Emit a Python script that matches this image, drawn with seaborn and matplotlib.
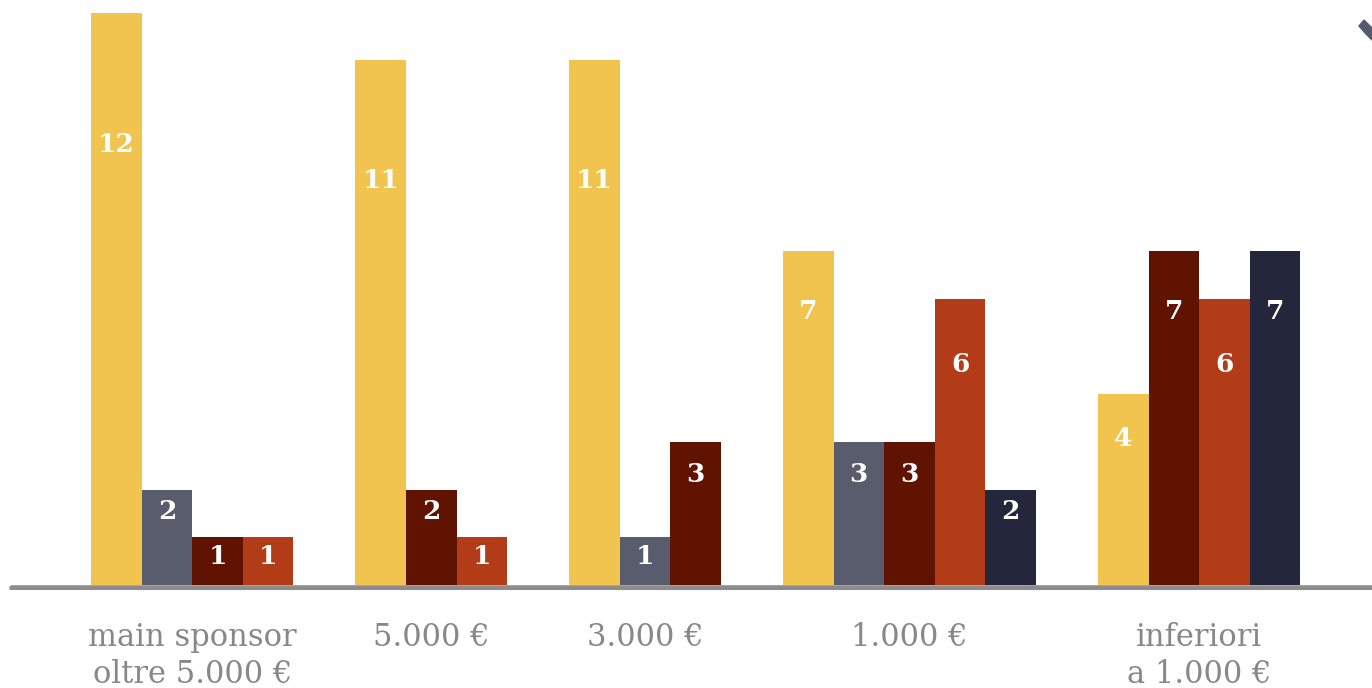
import matplotlib
matplotlib.use("Agg")
import matplotlib.pyplot as plt
import pandas as pd
import seaborn as sns

# Data (zero values are not drawn, bars are packed inside each group)
categorie = ["main sponsor\noltre 5.000 €", "5.000 €", "3.000 €", "1.000 €", "inferiori\na 1.000 €"]
serie = ["serie 1", "serie 2", "serie 3", "serie 4", "serie 5"]
valori_serie1 = [12, 11, 11, 7, 4]
valori_serie2 = [2, 0, 1, 3, 0]
valori_serie3 = [1, 2, 3, 3, 7]
valori_serie4 = [1, 1, 0, 6, 6]
valori_serie5 = [0, 0, 0, 2, 7]

colori = ["#F0C44F", "#585C6D", "#5F1300", "#B23B18", "#24263B"]

# Build a long table with packed positions
tutte = [valori_serie1, valori_serie2, valori_serie3, valori_serie4, valori_serie5]
gap = 1.225
rows = []
centri = []
pos = 0.0
for i, cat in enumerate(categorie):
    start = pos
    for s, vals in zip(serie, tutte):
        if vals[i] > 0:
            rows.append({"x": pos, "valore": vals[i], "serie": s})
            pos += 1
    centri.append((start + pos - 1) / 2)
    pos += gap
df = pd.DataFrame(rows)

sns.set_style("white")
plt.rcParams["font.family"] = ["DejaVu Serif", "DejaVu Sans"]

W, H = 1372, 688
fig = plt.figure(figsize=(W / 100, H / 100), dpi=100)
ax = fig.add_axes([0, 98 / H, 1, (H - 98) / H])

sns.barplot(data=df, x="x", y="valore", hue="serie", hue_order=serie,
            palette=dict(zip(serie, colori)), native_scale=True, dodge=False,
            width=1, errorbar=None, legend=False, saturation=1, ax=ax,
            linewidth=0, zorder=3)

unit_px = 50.6
xmin = -0.5 - 91 / unit_px
ax.set_xlim(xmin, xmin + W / unit_px)
ypx = 47.7
ax.set_ylim(-5 / ypx, (H - 103) / ypx)

# value labels inside the bars
for _, r in df.iterrows():
    v = r["valore"]
    if v == 1:
        frac = 0.6
    elif v == 7:
        frac = 0.82
    else:
        frac = 0.77
    ax.text(r["x"], v * frac, str(int(v)), ha="center", va="center",
            color="white", fontsize=19, fontweight="bold", zorder=4)

# baseline
ax.axhline(-3 / ypx, xmin=12 / W, xmax=1, color="#8C8C8C", lw=4,
           solid_capstyle="round", zorder=2)

for sp in ax.spines.values():
    sp.set_visible(False)
ax.set_yticks([])
ax.set_xticks(centri)
ax.set_xticklabels(categorie, color="#888888", fontsize=22, linespacing=1.25)
ax.tick_params(axis="x", length=0, pad=23)
ax.set_xlabel("")
ax.set_ylabel("")

# small cut-off icon in the top right corner
icona = plt.Polygon([(1359 / W, 1 - 26 / H), (1364 / W, 1 - 20 / H), (1372 / W, 1 - 28 / H),
                     (1372 / W, 1 - 40 / H), (1366 / W, 1 - 34 / H)],
                    closed=True, transform=fig.transFigure, color="#555A6E")
fig.patches.append(icona)

fig.savefig("out.png", dpi=100)
